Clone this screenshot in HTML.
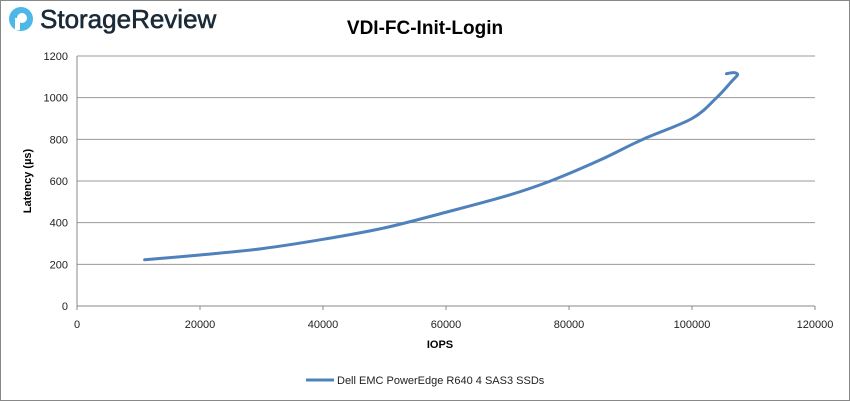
<!DOCTYPE html>
<html><head><meta charset="utf-8"><style>
body{margin:0;background:#fff;}
#wrap{position:relative;width:850px;height:401px;overflow:hidden;font-family:"Liberation Sans",sans-serif;}
</style></head><body>
<div id="wrap">
<svg width="850" height="401" id="svg">
<rect x="0.5" y="0.5" width="849" height="400" fill="#fff" stroke="#888"/>
<g>
<circle cx="21" cy="19" r="12" fill="#4db8e8"/>
<circle cx="22" cy="18" r="5" fill="#fff"/>
<rect x="15" y="18" width="5" height="12" fill="#fff"/>
<text x="40" y="28" font-size="26" fill="#1a2a38" stroke="#1a2a38" stroke-width="0.6" font-family="Liberation Sans, sans-serif">StorageReview</text>
</g>
<text x="425" y="34" text-anchor="middle" font-size="19" font-weight="bold" fill="#000">VDI-FC-Init-Login</text>
<g id="grid"></g><g id="axes"></g><g id="series"></g>
<text x="440" y="348" text-anchor="middle" font-size="11" font-weight="bold">IOPS</text>
<text transform="translate(31,181) rotate(-90)" text-anchor="middle" font-size="11" font-weight="bold">Latency (µs)</text>
<g>
<line x1="306" y1="380" x2="334" y2="380" stroke="#4f81bd" stroke-width="3"/>
<text x="337" y="384" font-size="11" fill="#222">Dell EMC PowerEdge R640 4 SAS3 SSDs</text>
</g>
</svg>
</div>
<script>
const xTicks=[0,20000,40000,60000,80000,100000,120000];
const yTicks=[0,200,400,600,800,1000,1200];
const iops=[11000,20000,30000,40000,50000,60000,70000,77000,85000,92000,100000,104000,106500,107400,106800,105600];
const latency=[222,245,275,320,375,450,530,600,700,800,900,1000,1080,1110,1120,1115];
const NS='http://www.w3.org/2000/svg';
const X=v=>77+v/120000*738, Y=v=>306-v/1200*250;
const g=document.getElementById('grid'),ax=document.getElementById('axes'),se=document.getElementById('series');
function mk(t,a,p){const e=document.createElementNS(NS,t);for(const k in a)e.setAttribute(k,a[k]);p.appendChild(e);return e;}
yTicks.forEach(v=>{
 const l=mk('line',{x1:77,x2:815,y1:Y(v),y2:Y(v),stroke:v===0?'#888':'#999','stroke-width':1},g);
 
 
 const t=mk('text',{x:68,y:Y(v)+4,'text-anchor':'end','font-size':11,fill:'#222'},ax);t.textContent=v;
 
 
});
mk('line',{x1:77,x2:77,y1:56,y2:306,stroke:'#888'},ax);
xTicks.forEach(v=>{
 const t=mk('text',{x:X(v),y:328,'text-anchor':'middle','font-size':11,fill:'#222'},ax);t.textContent=v;
 
 
 mk('line',{x1:X(v),x2:X(v),y1:306,y2:310,stroke:'#888'},ax);
});
const pts=iops.map((v,i)=>[X(v),Y(latency[i])]);
let d='M'+pts[0];
for(let i=0;i<pts.length-1;i++){const p0=pts[i-1]||pts[i],p1=pts[i],p2=pts[i+1],p3=pts[i+2]||p2;
 d+=' C'+(p1[0]+(p2[0]-p0[0])/6)+','+(p1[1]+(p2[1]-p0[1])/6)+' '+(p2[0]-(p3[0]-p1[0])/6)+','+(p2[1]-(p3[1]-p1[1])/6)+' '+p2[0]+','+p2[1];}
const path=mk('path',{d:d,fill:'none',stroke:'#4f81bd','stroke-width':3,'stroke-linecap':'round','stroke-linejoin':'round'},se);


</script>
</body></html>
